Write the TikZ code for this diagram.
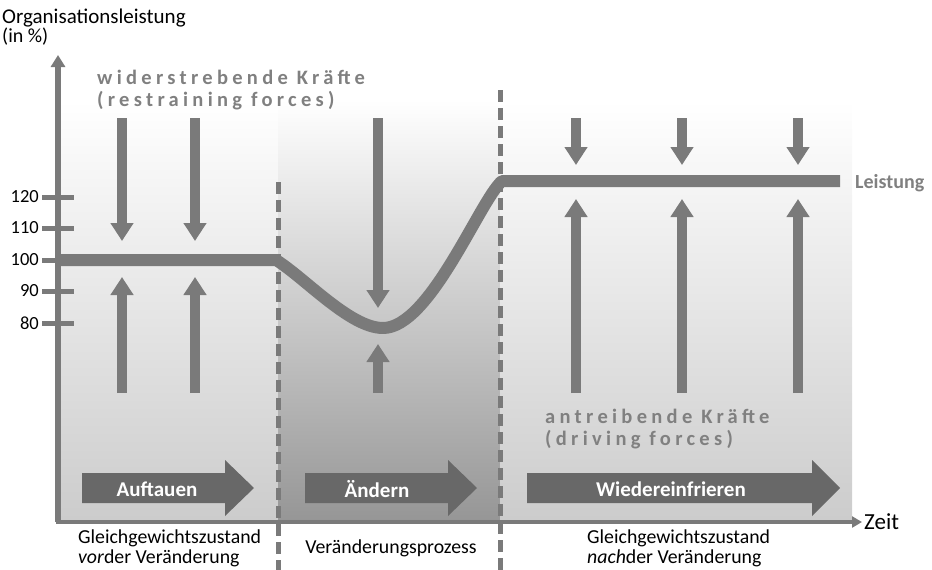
\documentclass[tikz,border=0pt]{standalone}
\usepackage{fontspec}
\setmainfont{Carlito}
\usetikzlibrary{arrows.meta}
\definecolor{linegray}{RGB}{122,122,122}
\definecolor{blockgray}{RGB}{104,104,104}
\definecolor{labelgray}{RGB}{128,128,128}
\definecolor{pale}{RGB}{204,204,204}
\definecolor{mid}{RGB}{150,150,150}
\tikzset{
  forcearrow/.style={draw=linegray, line width=10pt, -{Triangle[width=22pt,length=18pt]}},
  phaseline/.style={draw=linegray, line width=5pt, dash pattern=on 12pt off 6pt},
  blockarrow/.style={fill=blockgray, draw=none},
  blocktext/.style={text=white, font=\fontsize{21}{24}\selectfont\bfseries},
  forcetext/.style={text=labelgray, font=\fontsize{20.5}{22}\selectfont\bfseries\addfontfeatures{LetterSpace=21}, anchor=west, inner sep=0pt},
  plaintext/.style={font=\fontsize{19.8}{22}\selectfont, inner sep=0pt},
  ticklabel/.style={font=\fontsize{18.5}{20}\selectfont, anchor=east, inner sep=0pt},
  tickmark/.style={draw=linegray, line width=5pt},
}
\begin{document}
\begin{tikzpicture}[x=1pt,y=-1pt]
\useasboundingbox (0,0) rectangle (932,570);
% background panels
\shade[top color=white, bottom color=pale] (57,100) rectangle (278,520);
\shade[top color=white, bottom color=mid] (278,100) rectangle (500,520);
\shade[top color=white, bottom color=pale] (500,100) rectangle (852,520);
% axes
\coordinate (yb) at (58,522);
\coordinate (yt) at (58,55);
\draw[draw=linegray, line width=6pt, -{Triangle[width=14pt,length=12pt]}] (yb) -- (yt);
\coordinate (xl) at (56,522);
\coordinate (xr) at (862,522);
\draw[draw=linegray, line width=4pt, -{Triangle[width=11pt,length=10pt]}] (xl) -- (xr);
\node[font=\fontsize{23}{26}\selectfont, inner sep=0pt, anchor=west] (zeit) at (864,522) {Zeit};
% axis title
\node[font=\fontsize{21}{24}\selectfont, inner sep=0pt, anchor=west] (ytitle) at (2,18) {Organisationsleistung};
\node[font=\fontsize{20}{22}\selectfont, anchor=west, inner sep=0pt] (yunit) at (2,37) {(in \%)};
% ticks
\foreach \v/\y in {120/197,110/228,100/260,90/291,80/323}{
  \coordinate (ta\v) at (42,\y);
  \coordinate (tb\v) at (74,\y);
  \draw[tickmark] (ta\v) -- (tb\v);
  \node[ticklabel] (tl\v) at (39,\y) {\v};
}
% phase separators
\coordinate (d1t) at (278,182);
\coordinate (d1b) at (278,570);
\coordinate (d2t) at (500,90);
\coordinate (d2b) at (500,570);
\draw[phaseline] (d1t) -- (d1b);
\draw[phaseline] (d2t) -- (d2b);
% performance line
\coordinate (p0) at (58,260);
\coordinate (p1) at (276,260);
\coordinate (pm) at (383,328);
\coordinate (p2) at (502,181);
\coordinate (p3) at (840,181);
\draw[draw=linegray, line width=12pt, line join=round]
  (p0) -- (p1) .. controls (305,278) and (350,328) .. (pm)
  .. controls (430,328) and (480,200) .. (p2) -- (p3);
\node[text=labelgray, font=\fontsize{20}{22}\selectfont\bfseries, anchor=west, inner sep=0pt] (leistung) at (855,183) {Leistung};
% restraining forces (down)
\foreach \n/\x/\a/\b in {a/122/118/241,b/195/118/241,c/378/118/308,d/576/118/165,e/682/118/165,f/798/118/165}{
  \coordinate (rs\n) at (\x,\a);
  \coordinate (re\n) at (\x,\b);
  \draw[forcearrow] (rs\n) -- (re\n);
}
% driving forces (up)
\foreach \n/\x/\a/\b in {a/122/393/277,b/195/393/277,c/378/393/344,d/576/393/199,e/682/393/199,f/798/393/199}{
  \coordinate (ds\n) at (\x,\a);
  \coordinate (de\n) at (\x,\b);
  \draw[forcearrow] (ds\n) -- (de\n);
}
\node[forcetext] (wk) at (97,77) {widerstrebende Kräfte};
\node[forcetext] (rf) at (97,101) {(restraining forces)};
\node[forcetext] (ak) at (545,416) {antreibende Kräfte};
\node[forcetext] (df) at (545,440) {(driving forces)};
% block arrows
\fill[blockarrow] (82,473) -- (225,473) -- (225,460) -- (254,488) -- (225,516) -- (225,503) -- (82,503) -- cycle;
\node[blocktext] (auftauen) at (157,489) {Auftauen};
\fill[blockarrow] (305,473) -- (448,473) -- (448,460) -- (477,488) -- (448,516) -- (448,503) -- (305,503) -- cycle;
\node[blocktext] (aendern) at (377,489) {Ändern};
\fill[blockarrow] (527,473) -- (812,473) -- (812,460) -- (840,488) -- (812,516) -- (812,503) -- (527,503) -- cycle;
\node[blocktext] (wieder) at (671,489) {Wiedereinfrieren};
% bottom labels
\node[plaintext, anchor=west] (g1a) at (78,538) {Gleichgewichtszustand};
\node[plaintext, anchor=west] (g1b) at (78,558) {\textit{vor}der Veränderung};
\node[plaintext] (vp) at (391,548) {Veränderungsprozess};
\node[plaintext, anchor=west] (g2a) at (587,538) {Gleichgewichtszustand};
\node[plaintext, anchor=west] (g2b) at (587,558) {\textit{nach}der Veränderung};
\end{tikzpicture}
\end{document}
